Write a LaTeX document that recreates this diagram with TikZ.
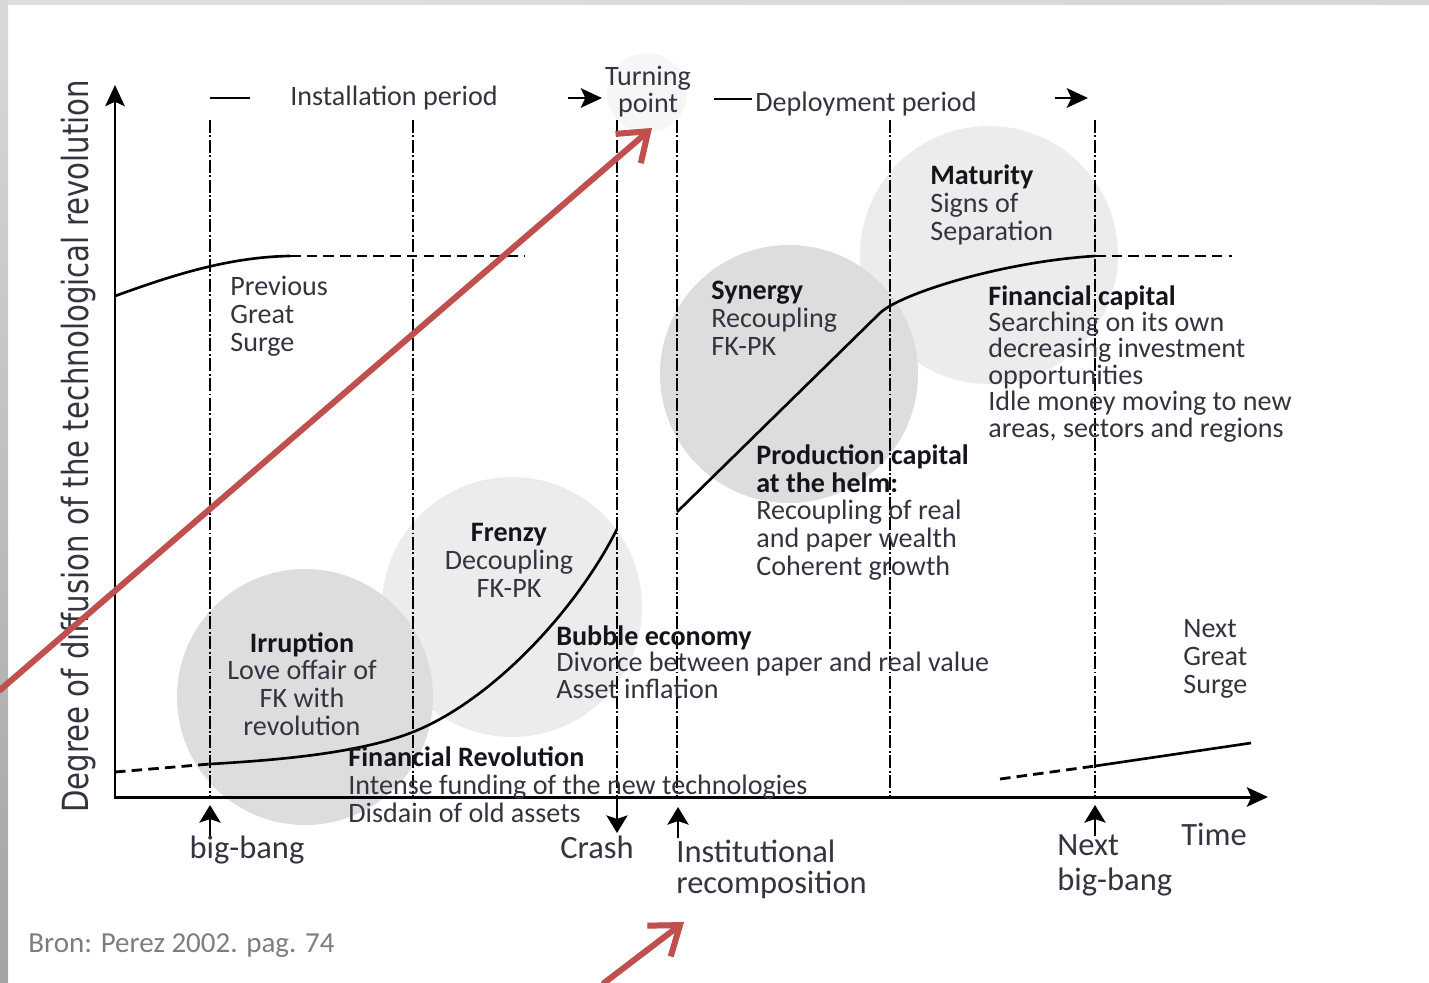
\documentclass[tikz,border=0pt]{standalone}
\usepackage{fontspec}
\setmainfont{Carlito}
\newfontfamily\axisfont[FakeStretch=0.81]{DejaVu Sans}
\usetikzlibrary{arrows.meta,positioning}
\definecolor{txtcol}{RGB}{52,52,64}
\definecolor{hdcol}{RGB}{20,20,28}
\definecolor{redarr}{RGB}{192,80,77}
\definecolor{srccol}{RGB}{125,125,125}
\newcommand{\stage}[1]{\textcolor{hdcol}{\textbf{#1}}}

\begin{document}
\begin{tikzpicture}[
  x=0.02cm, y=-0.02cm,
  axishead/.tip={Stealth[length=12pt,width=11pt,inset=2.5pt]},
  lbl/.style={font=\fontsize{16}{15.7}\selectfont, text=txtcol, inner sep=0pt, align=left, anchor=base west},
  tight/.style={lbl, font=\fontsize{16}{15}\selectfont},
  ctext/.style={lbl, align=center, anchor=base},
  big/.style={lbl, font=\fontsize{18.5}{17.5}\selectfont},
  vline/.style={line width=1.1pt, dash pattern=on 7.4pt off 1.4pt on 1.1pt off 1.4pt},
  plateau/.style={line width=1.6pt, dash pattern=on 6pt off 3.5pt},
  wave/.style={line width=1.5pt},
  axisline/.style={line width=1.7pt},
  periodarrow/.style={-axishead},
  eventarrow/.style={line width=1.5pt, -{Stealth[length=10pt,width=12pt,inset=2pt]}},
  blob/.style={fill=gray!27},
  haze/.style={fill=gray!15},
  pointer/.style={line width=3.4pt, draw=redarr, line cap=round, line join=round, -{Straight Barb[length=15pt,width=22pt]}},
]
\useasboundingbox (0,0) rectangle (1429,983);
\shade[top color=gray!30, bottom color=gray!72] (0,0) rectangle (8,983);
\shade[left color=gray!25, right color=gray!32] (8,0) rectangle (1429,5);

\fill[haze] (512,607) circle (130);
\fill[blob] (305,697) circle (128);
\fill[haze] (989,255) circle (129);
\fill[blob] (789,374) circle (129);
\fill[gray!7] (647,93) circle (40);

\draw[axisline] (210,98) -- (250,98);
\node[lbl] (inst) at (290,106) {Installation period};
\draw[axisline, periodarrow] (568,98) -- (602,98);
\node[ctext] (turn) at (648,113) {Turning\\point};
\draw[axisline] (714,99) -- (752,99);
\node[lbl] (depl) at (755,112) {Deployment period};
\draw[axisline, periodarrow] (1055,98) -- (1088,98);

\foreach \x [count=\i] in {210,413,617,677,890,1095}
  \draw[vline] (\x,120) coordinate (top\i) -- (\x,797) coordinate (foot\i);

\coordinate (ytop) at (115,85);
\coordinate (xend) at (1268,797);
\draw[axisline, axishead-axishead] (ytop) |- (xend);

\draw[wave] (115,296) .. controls (165,278) and (225,257) .. (290,256);
\draw[plateau] (290,256) -- (525,256);
\draw[plateau] (115,772) -- (210,764);
\draw[wave] (210,764) .. controls (280,760) and (360,753) .. (413,732)
  .. controls (493,700) and (577,609) .. (617,529);
\draw[wave] (677,512) -- (880,313) .. controls (900,294) and (1000,262) .. (1095,256);
\draw[plateau] (1095,256) -- (1232,256);
\draw[plateau] (1000,779) -- (1095,766);
\draw[wave] (1095,766) -- (1251,743);

\coordinate (bbfoot) at (210,836);
\coordinate (bbtip) at (210,805);
\coordinate (crashtip) at (617,833);
\coordinate (instfoot) at (678,838);
\coordinate (insttip) at (678,807);
\coordinate (nbfoot) at (1095,836);
\coordinate (nbtip) at (1095,805);
\draw[eventarrow] (bbfoot) -- (bbtip);
\draw[eventarrow] (foot3) -- (crashtip);
\draw[eventarrow] (instfoot) -- (insttip);
\draw[eventarrow] (nbfoot) -- (nbtip);

\node[lbl] (prev) at (230,351) {Previous\\Great\\Surge};
\node[ctext] (irr) at (302,735) {\stage{Irruption}\\Love offair of\\FK with\\revolution};
\node[ctext] (fren) at (509,597) {\stage{Frenzy}\\Decoupling\\FK-PK};
\node[tight] (bubble) at (556,698) {\stage{Bubble economy}\\Divorce between paper and real value\\Asset inflation};
\node[lbl] (finrev) at (348,822) {\stage{Financial Revolution}\\Intense funding of the new technologies\\Disdain of old assets};
\node[lbl] (syn) at (711,355) {\stage{Synergy}\\Recoupling\\FK-PK};
\node[lbl] (prod) at (756,575) {\stage{Production capital}\\\stage{at the helm:}\\Recoupling of real\\and paper wealth\\Coherent growth};
\node[lbl] (mat) at (930,240) {\stage{Maturity}\\Signs of\\Separation};
\node[tight] (fincap) at (988,437) {\stage{Financial capital}\\Searching on its own\\decreasing investment\\opportunities\\Idle money moving to new\\areas, sectors and regions};
\node[lbl] (next) at (1183,693) {Next\\Great\\Surge};

\node[big, anchor=base] (bigbang) at (247,858) {big-bang};
\node[big, anchor=base] (crash) at (597,858) {Crash};
\node[big] (instrec) at (676,893) {Institutional\\recomposition};
\node[big, font=\fontsize{18.5}{19.5}\selectfont] (nextbb) at (1057,890) {Next\\big-bang};
\node[big] (time) at (1181,845) {Time};
\node[lbl, text=srccol, font=\fontsize{16.5}{16}\selectfont] (src) at (28,952) {Bron: Perez 2002. pag. 74};

\node[rotate=90, anchor=base west, inner sep=0pt, text=txtcol,
  font=\axisfont\fontsize{20.5}{20}\selectfont] (ylab) at (88,813)
  {Degree of diffusion of the technological revolution};

\coordinate (lowleft) at (0,690);
\coordinate (turnhint) at (652,128);
\coordinate (lowmid) at (604,983);
\coordinate (insthint) at (684,922);
\draw[pointer, draw=black, opacity=0.15, shift={(3,4)}] (lowleft) -- (turnhint);
\draw[pointer, draw=black, opacity=0.15, shift={(3,4)}] (lowmid) -- (insthint);
\draw[pointer] (lowleft) -- (turnhint);
\draw[pointer] (lowmid) -- (insthint);
\end{tikzpicture}
\end{document}
